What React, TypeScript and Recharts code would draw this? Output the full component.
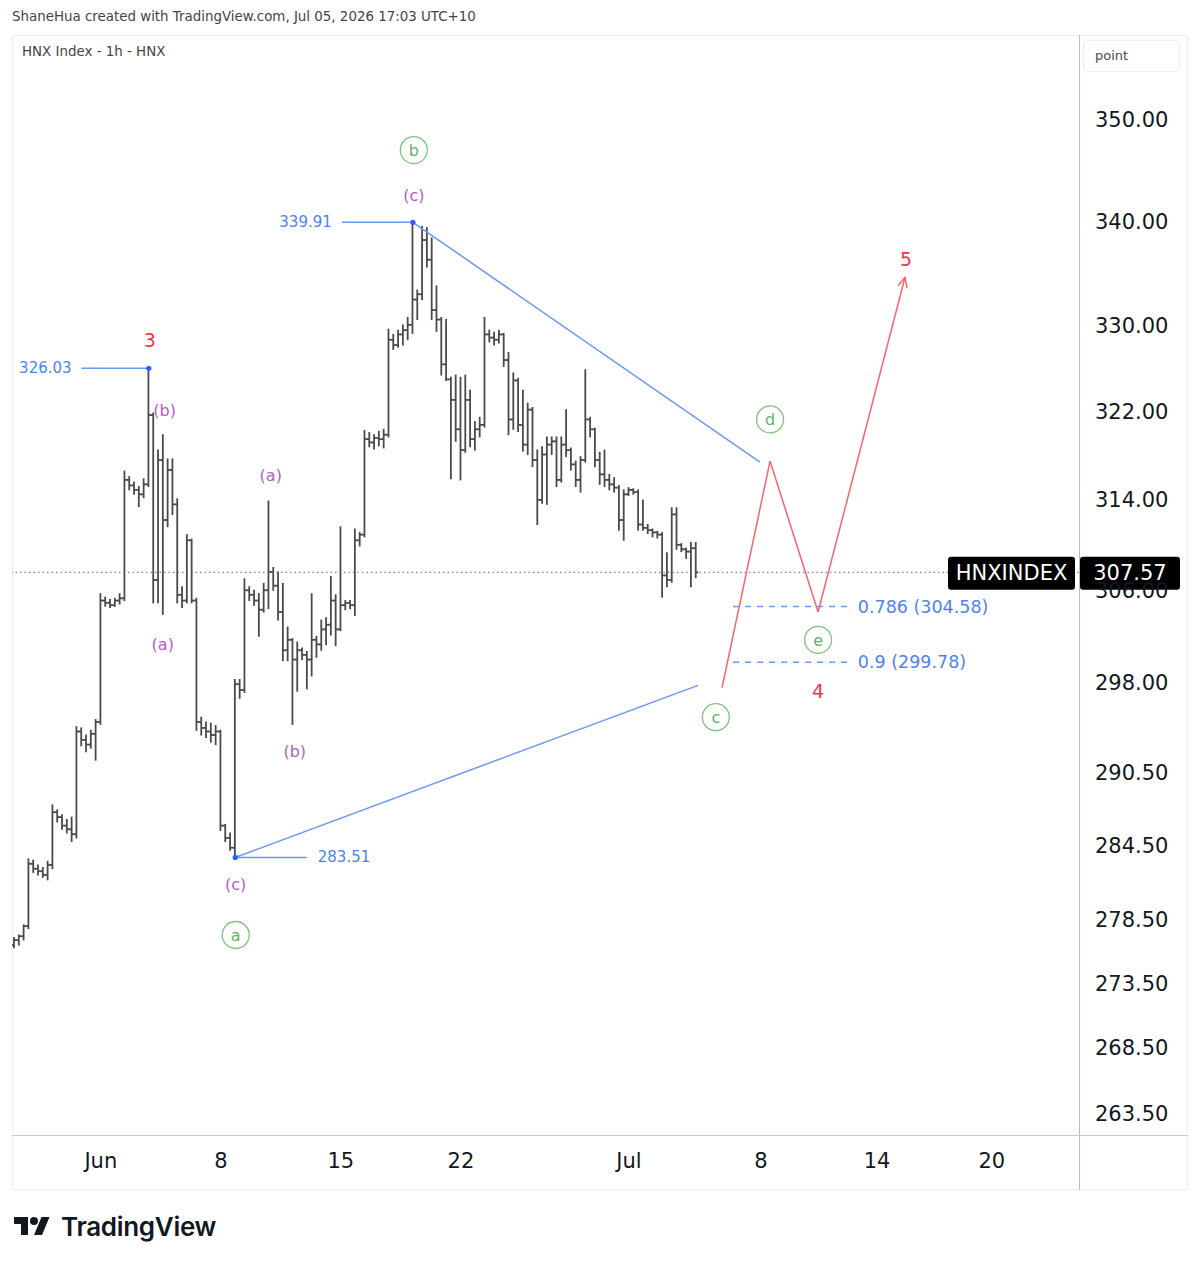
import React from "react";
import { Bar, ComposedChart, ReferenceDot, ReferenceLine, XAxis, YAxis } from "recharts";

// bar 0 = first 1h bar of Jun 1, five bars per session
const FIRST_BAR = -18;

const opens = [
  276.5, 276.9, 277.2, 278.0, 283.0, 282.6, 282.4, 282.1, 282.9, 287.2, 286.8, 286.1, 285.8, 285.4, 293.9, 293.2, 292.8, 293.7,
  294.7, 305.1, 304.9, 304.7, 305.1, 305.3, 315.8, 315.3, 314.9, 314.5,
  315.4, 321.7, 306.9, 317.6, 312.2, 316.7, 313.6, 305.6, 305.1, 310.4,
  305.1, 294.7, 294.2, 293.9, 293.6, 293.9, 286.1, 285.1, 284.3, 297.9,
  297.4, 306.0, 305.6, 305.1, 304.3, 306.0, 307.6, 306.4, 304.1, 300.8,
  301.7, 300.0, 300.8, 300.4, 300.0, 301.7, 301.3, 302.6, 303.0, 305.1,
  302.6, 304.7, 304.9, 304.7, 310.4, 310.9, 319.5, 319.2, 319.6, 319.5,
  319.9, 328.7, 328.2, 329.2, 329.6, 330.1, 332.5, 333.0, 338.2, 336.3,
  331.5, 330.6, 326.4, 325.0, 323.1, 320.4, 318.5, 323.1, 319.5, 320.4,
  320.8, 329.2, 328.9, 328.7, 329.2, 326.8, 321.3, 324.9, 320.8, 319.0,
  322.2, 317.6, 314.0, 318.1, 319.0, 319.3, 315.8, 319.0, 318.5, 317.2,
  315.8, 317.6, 321.3, 320.4, 317.6, 316.3, 315.8, 315.4, 315.1, 312.2,
  314.5, 314.9, 314.7, 311.8, 311.5, 311.3, 311.1, 310.9, 307.3, 306.9,
  312.7, 310.0, 309.6, 309.4, 309.7,
];
const highs = [
  277.1, 277.3, 278.1, 283.4, 283.3, 282.9, 282.7, 283.2, 287.8, 287.4, 287.0, 286.6, 286.8, 294.3, 294.2, 293.6, 294.0, 294.9,
  305.7, 305.4, 305.2, 305.3, 305.7, 316.6, 316.1, 315.6, 315.2, 315.9,
  326.03, 321.9, 318.5, 319.9, 317.7, 317.7, 314.1, 306.3, 310.9, 310.5,
  305.3, 295.1, 294.7, 294.6, 294.4, 294.0, 286.2, 285.5, 298.3, 298.3,
  307.0, 306.3, 306.0, 305.7, 306.6, 313.9, 308.0, 307.6, 306.6, 302.8,
  301.8, 301.5, 301.0, 300.7, 305.7, 302.0, 303.4, 303.6, 307.2, 305.6,
  311.6, 305.1, 305.1, 311.4, 311.1, 320.3, 320.1, 319.9, 320.2, 320.4,
  329.7, 329.2, 329.6, 330.1, 330.8, 339.91, 333.4, 339.5, 339.4, 338.4,
  333.8, 330.8, 330.6, 325.2, 325.4, 325.2, 325.4, 324.0, 321.1, 321.5,
  330.8, 329.6, 329.4, 329.6, 329.3, 327.5, 325.6, 325.1, 324.0, 322.8,
  322.4, 318.5, 318.8, 319.7, 319.7, 319.7, 319.7, 322.2, 318.7, 317.5,
  317.9, 325.9, 321.5, 320.5, 318.3, 318.5, 316.3, 316.0, 315.3, 314.9,
  315.1, 315.0, 314.9, 314.0, 311.8, 311.4, 311.2, 311.1, 309.3, 313.3,
  313.3, 310.1, 309.7, 310.2, 310.2,
];
const lows = [
  276.3, 276.5, 276.9, 277.8, 282.3, 282.1, 281.9, 281.7, 282.6, 286.4, 285.8, 285.5, 284.8, 285.1, 292.7, 292.2, 292.5, 291.5,
  294.5, 304.6, 304.5, 304.6, 304.8, 305.1, 314.9, 314.5, 313.4, 314.2,
  315.2, 304.9, 304.9, 303.9, 311.6, 312.7, 304.9, 304.5, 304.9, 304.9,
  294.0, 293.6, 293.4, 293.0, 292.8, 285.7, 284.8, 284.1, 283.51, 296.7,
  297.2, 305.1, 304.7, 302.0, 304.1, 304.4, 306.0, 303.4, 299.9, 299.9,
  294.5, 297.3, 300.0, 297.5, 298.6, 300.2, 300.8, 301.3, 302.1, 301.2,
  302.5, 304.3, 304.4, 303.8, 309.9, 310.7, 318.8, 318.6, 318.9, 318.7,
  319.7, 327.8, 328.0, 328.2, 328.7, 329.3, 330.6, 332.5, 335.6, 330.6,
  329.5, 325.4, 324.9, 315.9, 319.3, 315.8, 318.3, 318.8, 318.5, 319.7,
  320.6, 328.5, 328.2, 328.4, 326.2, 319.9, 320.4, 320.2, 318.4, 318.1,
  317.0, 311.8, 313.7, 313.6, 318.1, 315.2, 315.6, 317.9, 316.7, 315.2,
  314.7, 317.4, 319.7, 317.0, 315.4, 315.2, 314.9, 314.7, 311.3, 310.4,
  314.4, 314.5, 311.3, 311.3, 311.0, 310.7, 310.6, 305.4, 306.3, 306.7,
  309.6, 309.4, 308.8, 306.3, 307.1,
];
const closes = [
  276.9, 277.2, 278.0, 283.0, 282.6, 282.4, 282.1, 282.9, 287.2, 286.8, 286.1, 285.8, 285.4, 293.9, 293.2, 292.8, 293.7, 294.7,
  305.1, 304.9, 304.7, 305.1, 305.3, 315.8, 315.3, 314.9, 314.5, 315.4,
  321.7, 306.9, 317.6, 312.2, 316.7, 313.6, 305.6, 305.1, 310.4, 305.1,
  294.7, 294.2, 293.9, 293.6, 293.9, 286.1, 285.1, 284.3, 297.9, 297.4,
  306.0, 305.6, 305.1, 304.3, 306.0, 307.6, 306.4, 304.1, 300.8, 301.7,
  300.0, 300.8, 300.4, 300.0, 301.7, 301.3, 302.6, 303.0, 305.1, 302.6,
  304.7, 304.9, 304.7, 310.4, 310.9, 319.5, 319.2, 319.6, 319.5, 319.9,
  328.7, 328.2, 329.2, 329.6, 330.1, 332.5, 333.0, 338.2, 336.3, 331.5,
  330.6, 326.4, 325.0, 323.1, 320.4, 318.5, 323.1, 319.5, 320.4, 320.8,
  329.2, 328.9, 328.7, 329.2, 326.8, 321.3, 324.9, 320.8, 319.0, 322.2,
  317.6, 314.0, 318.1, 319.0, 319.3, 315.8, 319.0, 318.5, 317.2, 315.8,
  317.6, 321.3, 320.4, 317.6, 316.3, 315.8, 315.4, 315.1, 312.2, 314.5,
  314.9, 314.7, 311.8, 311.5, 311.3, 311.1, 310.9, 307.3, 306.9, 312.7,
  310.0, 309.6, 309.4, 309.7, 307.57,
];

const priceTicks = [263.5, 268.5, 273.5, 278.5, 284.5, 290.5, 298, 306, 314, 322, 330, 340, 350];
const timeTicks = [0, 25, 50, 75, 110, 137.5, 161.7, 185.6];
const timeLabels = ["Jun", "8", "15", "22", "Jul", "8", "14", "20"];
const lastPrice = 307.57;

// drawings, in bar index / price
const pivots = [
  { bar: 10, price: 326.03, lineEnd: -4 },
  { bar: 65, price: 339.91, lineEnd: 50.2 },
  { bar: 28, price: 283.51, lineEnd: 42.9 },
];
const trendFrom = [
  { bar: 65, price: 339.91 },
  { bar: 28, price: 283.51 },
];
const trendTo = [
  { bar: 137.3, price: 317.4 },
  { bar: 124.4, price: 297.8 },
];
const pathBars = [129.4, 139.4, 149.4, 167.5];
const pathPrices = [297.6, 317.5, 304.1, 334.6];
const fibRatios = ["0.786", "0.9"];
const fibPrices = [304.58, 299.78];
const fibStart = 131.7;
const fibEnd = 155.6;

const circled = [
  { bar: 65.2, price: 347.0, text: "b" },
  { bar: 28.1, price: 277.3, text: "a" },
  { bar: 128.1, price: 295.1, text: "c" },
  { bar: 139.4, price: 321.3, text: "d" },
  { bar: 149.4, price: 301.7, text: "e" },
];
const minorWaves = [
  { bar: 65.2, price: 342.5, text: "(c)" },
  { bar: 13.3, price: 322.1, text: "(b)" },
  { bar: 12.9, price: 301.3, text: "(a)" },
  { bar: 28.1, price: 281.3, text: "(c)" },
  { bar: 35.4, price: 316.2, text: "(a)" },
  { bar: 40.4, price: 292.2, text: "(b)" },
];
const impulseWaves = [
  { bar: 10.2, price: 328.7, text: "3" },
  { bar: 149.4, price: 297.3, text: "4" },
  { bar: 167.7, price: 336.4, text: "5" },
];

const FONT = "DejaVu Sans, sans-serif";
const BLUE = "#6a98f4";
const BLUE_TEXT = "#4f82f2";
const RED = "#f7646d";
const RED_TEXT = "#f23645";
const GREEN = "#7cc47f";
const PURPLE = "#b45cc8";
const BAR = "#4a4a4a";

function OhlcShape(props: any) {
  const { x, y, width, height, payload } = props;
  if (x == null || y == null || !payload) return null;
  const top = Math.min(y, y + height);
  const h = Math.abs(height);
  const cx = x + width / 2;
  const lh = Math.log(payload.high);
  const ll = Math.log(payload.low);
  const span = lh - ll || 1;
  const py = (v: number) => top + (h * (lh - Math.log(v))) / span;
  const oy = py(payload.open);
  const cy = py(payload.close);
  return (
    <g stroke={BAR} strokeWidth={1.8}>
      <line x1={cx} x2={cx} y1={top - 0.5} y2={top + h + 0.5} />
      <line x1={cx - 2.6} x2={cx} y1={oy} y2={oy} />
      <line x1={cx} x2={cx + 2.6} y1={cy} y2={cy} />
    </g>
  );
}

function ArrowLine(p: any) {
  const { x1, y1, x2, y2 } = p;
  const a = Math.atan2(y2 - y1, x2 - x1);
  const len = 11;
  const spread = 0.45;
  const ax = x2 - len * Math.cos(a - spread);
  const ay = y2 - len * Math.sin(a - spread);
  const bx = x2 - len * Math.cos(a + spread);
  const by = y2 - len * Math.sin(a + spread);
  return (
    <g stroke={RED} strokeWidth={1.5} fill="none">
      <line x1={x1} y1={y1} x2={x2} y2={y2} />
      <polyline points={`${ax},${ay} ${x2},${y2} ${bx},${by}`} />
    </g>
  );
}

function PriceTag(props: any) {
  const vb = props.viewBox || {};
  const right = vb.x + vb.width;
  const y = vb.y + 1;
  return (
    <g fontFamily={FONT} fontSize={21}>
      <rect x={right - 131} y={y - 16.5} width={127} height={33} rx={3} fill="#000" />
      <rect x={right + 1} y={y - 16.5} width={100} height={33} rx={3} fill="#000" />
      <text x={right - 67.5} y={y} fill="#fff" textAnchor="middle" dominantBaseline="central">
        HNXINDEX
      </text>
      <text x={right + 51} y={y} fill="#fff" textAnchor="middle" dominantBaseline="central">
        {lastPrice.toFixed(2)}
      </text>
    </g>
  );
}

export default function App() {
  const data = closes.map((c, k) => ({
    bar: FIRST_BAR + k,
    open: opens[k],
    high: highs[k],
    low: lows[k],
    close: c,
    range: [lows[k], highs[k]],
  }));

  return (
    <div style={{ position: "relative", width: 1200, height: 1267, background: "#fff", fontFamily: FONT, overflow: "hidden" }}>
      <style>{"body{margin:0}"}</style>
      <div style={{ position: "absolute", left: 12, top: 9, fontSize: 13.4, color: "#444", whiteSpace: "nowrap" }}>
        ShaneHua created with TradingView.com, Jul 05, 2026 17:03 UTC+10
      </div>
      <div
        style={{
          position: "absolute",
          left: 12,
          top: 35,
          width: 1176,
          height: 1155,
          border: "1px solid #eceef2",
          boxSizing: "border-box",
        }}
      />
      <div style={{ position: "absolute", left: 12, top: 35 }}>
        <ComposedChart width={1176} height={1155} data={data} margin={{ top: 0, right: 0, bottom: 0, left: 0 }}>
          <XAxis
            dataKey="bar"
            type="number"
            domain={[-18.5, 203.75]}
            allowDataOverflow
            ticks={timeTicks}
            interval={0}
            tickFormatter={(v: number) => timeLabels[timeTicks.indexOf(v)] ?? ""}
            height={55}
            axisLine={false}
            tickLine={false}
            tickSize={6}
            tickMargin={12}
            tick={{ fill: "#131722", fontSize: 21, fontFamily: FONT }}
          />
          <YAxis
            orientation="right"
            type="number"
            scale="log"
            domain={[261.9, 358.6]}
            allowDataOverflow
            ticks={priceTicks}
            interval={0}
            tickFormatter={(v: number) => v.toFixed(2)}
            width={109}
            axisLine={false}
            tickLine={false}
            tickSize={6}
            tickMargin={10}
            tick={{ fill: "#131722", fontSize: 21, fontFamily: FONT }}
          />
          <ReferenceLine y={lastPrice} stroke="#666" strokeDasharray="1.5 3" strokeWidth={1} label={<PriceTag />} />
          <Bar dataKey="range" barSize={4} shape={OhlcShape} isAnimationActive={false} />

          {trendFrom.map((f, k) => (
            <ReferenceLine
              key={"t" + k}
              ifOverflow="visible"
              stroke={BLUE}
              strokeWidth={1.5}
              segment={[
                { x: f.bar, y: f.price },
                { x: trendTo[k].bar, y: trendTo[k].price },
              ]}
            />
          ))}
          {pivots.map((p, k) => (
            <ReferenceLine
              key={"p" + k}
              ifOverflow="visible"
              stroke={BLUE}
              strokeWidth={1.5}
              segment={[
                { x: p.bar, y: p.price },
                { x: p.lineEnd, y: p.price },
              ]}
            />
          ))}
          {pivots.map((p, k) => (
            <ReferenceDot key={"pd" + k} x={p.bar} y={p.price} r={2.6} fill="#2962ff" stroke="none" ifOverflow="visible" />
          ))}
          {pivots.map((p, k) => (
            <ReferenceDot
              key={"pl" + k}
              x={p.lineEnd}
              y={p.price}
              r={0}
              ifOverflow="visible"
              shape={(s: any) => {
                const left = p.lineEnd < p.bar;
                return (
                  <text
                    x={left ? s.cx - 10 : s.cx + 11}
                    y={s.cy}
                    textAnchor={left ? "end" : "start"}
                    dominantBaseline="central"
                    fontSize={15}
                    fontFamily={FONT}
                    fill={BLUE_TEXT}
                  >
                    {p.price.toFixed(2)}
                  </text>
                );
              }}
            />
          ))}

          {fibPrices.map((fp, k) => (
            <ReferenceLine
              key={"f" + k}
              ifOverflow="visible"
              stroke={BLUE}
              strokeWidth={1.5}
              strokeDasharray="6 6"
              segment={[
                { x: fibStart, y: fp },
                { x: fibEnd, y: fp },
              ]}
            />
          ))}
          {fibPrices.map((fp, k) => (
            <ReferenceDot
              key={"fl" + k}
              x={fibEnd}
              y={fp}
              r={0}
              ifOverflow="visible"
              shape={(s: any) => (
                <text x={s.cx + 10} y={s.cy} dominantBaseline="central" fontSize={17.5} fontFamily={FONT} fill={BLUE_TEXT}>
                  {`${fibRatios[k]} (${fp.toFixed(2)})`}
                </text>
              )}
            />
          ))}

          {pathBars.slice(1).map((b, k) => (
            <ReferenceLine
              key={"z" + k}
              ifOverflow="visible"
              stroke={RED}
              strokeWidth={1.5}
              shape={k === pathBars.length - 2 ? ArrowLine : undefined}
              segment={[
                { x: pathBars[k], y: pathPrices[k] },
                { x: b, y: pathPrices[k + 1] },
              ]}
            />
          ))}

          {circled.map((c, k) => (
            <ReferenceDot
              key={"c" + k}
              x={c.bar}
              y={c.price}
              r={0}
              ifOverflow="visible"
              shape={(s: any) => (
                <g>
                  <circle cx={s.cx} cy={s.cy} r={13.5} fill="#fff" stroke={GREEN} strokeWidth={1.3} />
                  <text x={s.cx} y={s.cy + 0.5} textAnchor="middle" dominantBaseline="central" fontSize={16} fontFamily={FONT} fill="#5fb463">
                    {c.text}
                  </text>
                </g>
              )}
            />
          ))}
          {minorWaves.map((m, k) => (
            <ReferenceDot
              key={"m" + k}
              x={m.bar}
              y={m.price}
              r={0}
              ifOverflow="visible"
              shape={(s: any) => (
                <text x={s.cx} y={s.cy} textAnchor="middle" dominantBaseline="central" fontSize={16} fontFamily={FONT} fill={PURPLE}>
                  {m.text}
                </text>
              )}
            />
          ))}
          {impulseWaves.map((w, k) => (
            <ReferenceDot
              key={"w" + k}
              x={w.bar}
              y={w.price}
              r={0}
              ifOverflow="visible"
              shape={(s: any) => (
                <text x={s.cx} y={s.cy} textAnchor="middle" dominantBaseline="central" fontSize={19} fontFamily={FONT} fill={RED_TEXT}>
                  {w.text}
                </text>
              )}
            />
          ))}
        </ComposedChart>
      </div>

      <div style={{ position: "absolute", left: 1079, top: 35, width: 1, height: 1155, background: "#b9bcc4" }} />
      <div style={{ position: "absolute", left: 12, top: 1135, width: 1176, height: 1, background: "#c5c8cf" }} />
      <div style={{ position: "absolute", left: 22, top: 44, fontSize: 13.4, color: "#444", whiteSpace: "nowrap" }}>
        HNX Index - 1h - HNX
      </div>
      <div
        style={{
          position: "absolute",
          left: 1083,
          top: 40,
          width: 97,
          height: 32,
          border: "1px solid #eceef2",
          borderRadius: 5,
          boxSizing: "border-box",
          fontSize: 13,
          color: "#4a4a4a",
          paddingLeft: 11,
          lineHeight: "30px",
        }}
      >
        point
      </div>
      <svg style={{ position: "absolute", left: 14, top: 1213 }} width={36} height={28} viewBox="0 0 36 28">
        <path d="M14 22H7V11H0V4h14v18zM28 22h-8l7.5-18h8L28 22z" fill="#131722" />
        <circle cx={20} cy={8} r={4} fill="#131722" />
      </svg>
      <div
        style={{
          position: "absolute",
          left: 61,
          top: 1211,
          fontSize: 26,
          fontWeight: 600,
          fontFamily: "Inter, sans-serif",
          color: "#131722",
          letterSpacing: -0.3,
        }}
      >
        TradingView
      </div>
    </div>
  );
}
